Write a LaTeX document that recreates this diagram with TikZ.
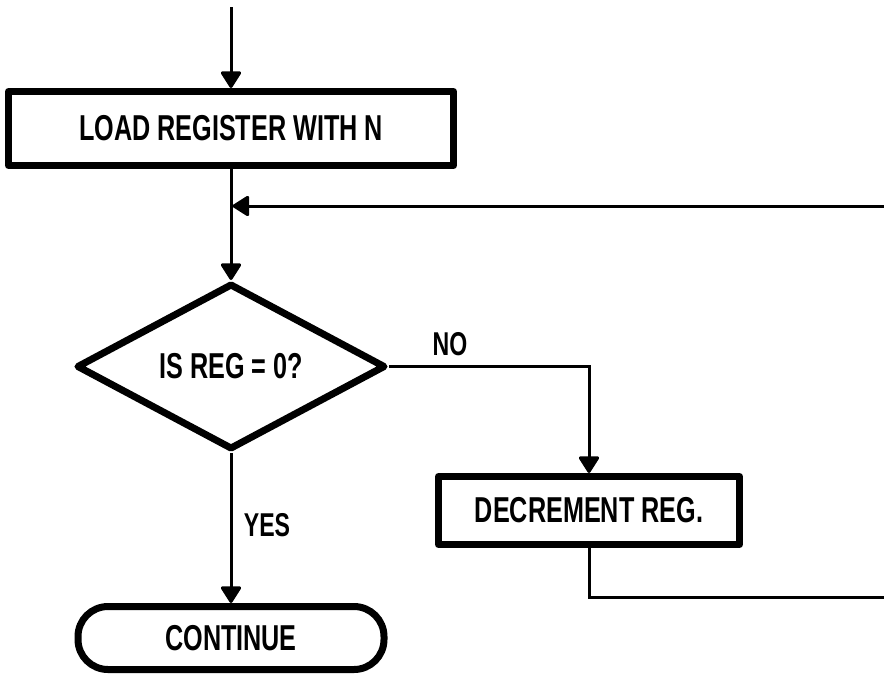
\documentclass[tikz,border=0pt]{standalone}
\usepackage{fontspec}
\newfontfamily\flowfont[FakeStretch=0.70]{Liberation Sans}
\usetikzlibrary{shapes.geometric,arrows.meta}
\begin{document}
\begin{tikzpicture}[x=0.5pt,y=-0.5pt,
  flowtext/.style={font=\flowfont\bfseries\fontsize{18}{21}\selectfont},
  labeltext/.style={font=\flowfont\bfseries\fontsize{16.5}{19}\selectfont},
  procbox/.style={draw,line width=3.5pt,line join=round,rectangle,inner sep=0pt,flowtext},
  decbox/.style={draw,line width=3.5pt,line join=round,diamond,aspect=2,inner sep=0pt,flowtext},
  termbox/.style={draw,line width=3.5pt,rectangle,rounded corners=15pt,inner sep=0pt,flowtext},
  flow/.style={line width=1.5pt,-{Triangle[width=11pt,length=9pt,round]}},
  plain/.style={line width=1.5pt}]
  \useasboundingbox (0,0) rectangle (884,677);

  % process steps, decision and terminal
  \node[procbox,minimum width=222.5pt,minimum height=37pt] (load) at (231,128.5) {LOAD REGISTER WITH N};
  \node[decbox,minimum width=154.5pt,minimum height=83pt] (test) at (231,366.5) {IS REG = 0?};
  \node[procbox,minimum width=150.5pt,minimum height=34pt] (dec) at (589,510.5) {DECREMENT REG.};
  \node[termbox,minimum width=153pt,minimum height=31.5pt] (cont) at (231,638) {CONTINUE};

  % free ends of the connectors
  \coordinate (entry) at (231,7);
  \coordinate (loopin) at (884,206);
  \coordinate (merge) at (232.5,206);
  \coordinate (loopout) at (884,597);

  % connectors
  \draw[flow] (entry) -- (load.north);
  \draw[flow] (load.south) -- (test.north);
  \draw[flow] (loopin) -- (merge);
  \draw[flow] (test.east) -| (dec.north);
  \draw[plain] (dec.south) |- (loopout);
  \draw[flow] (test.south) -- (cont.north);

  % branch labels
  \node[labeltext] (nolabel) at (450,344) {NO};
  \node[labeltext] (yeslabel) at (267,525) {YES};
\end{tikzpicture}
\end{document}
